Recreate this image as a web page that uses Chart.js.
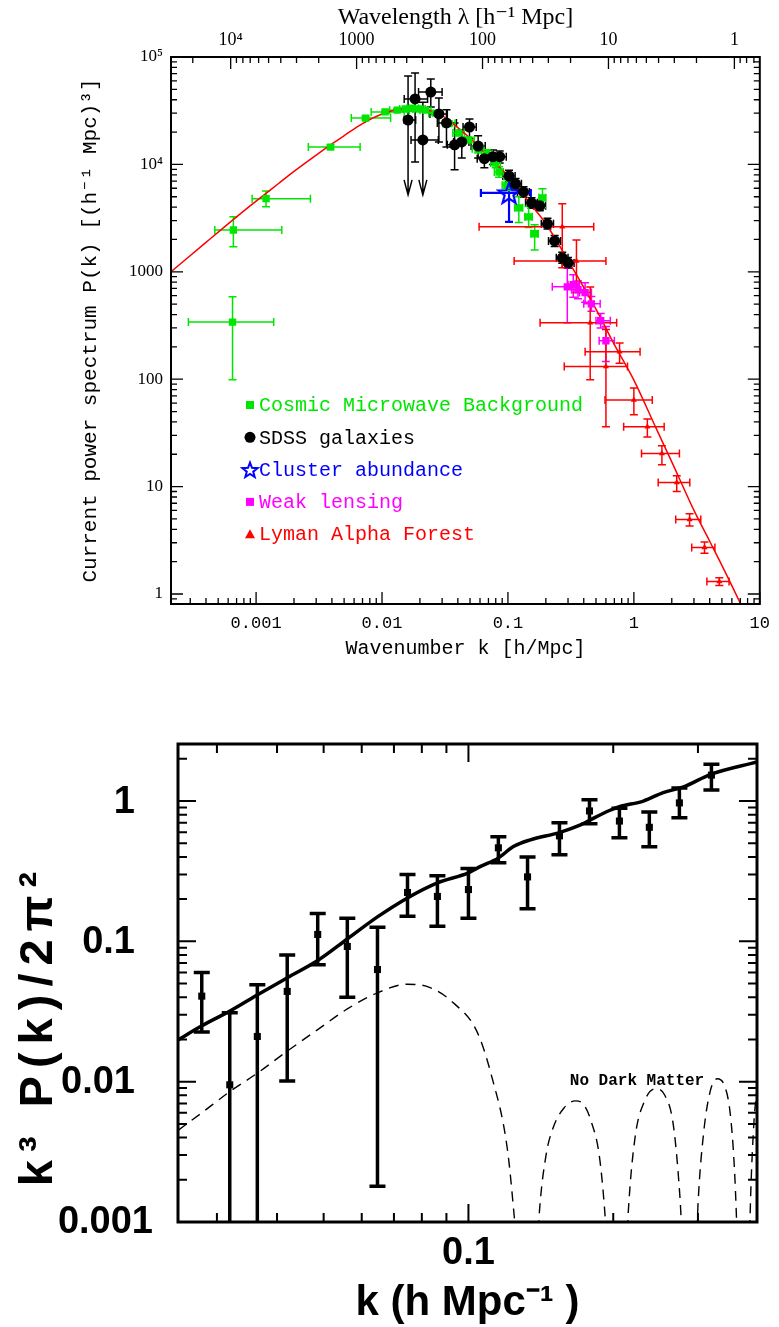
<!DOCTYPE html>
<html>
<head>
<meta charset="utf-8">
<title>Matter power spectrum</title>
<script src="https://cdn.jsdelivr.net/npm/chart.js@4.4.1/dist/chart.umd.min.js"></script>
<style>
  body { margin: 0; background: #fff; }
  canvas { position: absolute; left: 0; }
  #topChart { top: 0; }
  #botChart { top: 680px; }
</style>
</head>
<body>
<canvas id="topChart" width="779" height="680"></canvas>
<canvas id="botChart" width="779" height="647"></canvas>
<script>
// ---------- top panel: P(k), k in h/Mpc ----------
const theoryK = [0.000211, 0.0004, 0.0007, 0.001, 0.0015, 0.002, 0.003, 0.004, 0.005, 0.007, 0.01, 0.015, 0.02,
                 0.03, 0.04, 0.05, 0.07, 0.1, 0.15, 0.2, 0.3, 0.5, 0.7, 1, 1.5, 2, 3, 4, 5, 7, 8];
const theoryP = [1000, 1880, 3250, 4550, 6600, 8600, 12200, 15500, 18500, 24000, 29500, 33000, 33000,
                 28500, 22000, 17500, 11800, 7800, 4300, 2800, 1280, 450, 210, 98, 35, 17, 6.0, 3.1, 1.85, 0.82, 0.58];

// rows: k, P, kLow, kHigh, PLow, PHigh
const cmb = [
  [0.00065, 340, 0.00029, 0.00138, 99, 585],
  [0.00066, 2450, 0.00047, 0.0016, 1710, 3250],
  [0.0012, 4800, 0.00093, 0.0027, 4030, 5660],
  [0.0039, 14500, 0.0026, 0.0067, 13900, 15200],
  [0.0074, 27000, 0.0057, 0.0117, 26000, 28000],
  [0.0106, 30800, 0.0082, 0.0150, 29800, 31800],
  [0.0132, 32000, 0.0115, 0.0165, 31000, 33000],
  [0.0153, 32800, 0.0138, 0.0175, 31800, 33800],
  [0.0174, 33300, 0.0158, 0.0195, 32300, 34300],
  [0.0198, 32800, 0.0180, 0.0220, 31800, 33800],
  [0.0221, 32000, 0.0200, 0.0245, 31000, 33000],
  [0.0265, 30000, 0.0235, 0.0300, 29000, 31000],
  [0.0340, 24000, 0.0305, 0.0380, 23000, 25000],
  [0.0405, 19600, 0.0365, 0.0450, 18600, 20600],
  [0.0487, 16900, 0.0440, 0.0540, 15900, 17900],
  [0.058, 14000, 0.052, 0.064, 12800, 15200],
  [0.068, 12500, 0.062, 0.075, 11300, 13700],
  [0.080, 10300, 0.073, 0.087, 9300, 11300],
  [0.085, 8500, 0.078, 0.092, 7600, 9500],
  [0.098, 6400, 0.090, 0.106, 5700, 7200],
  [0.122, 3940, 0.113, 0.131, 2880, 5000],
  [0.146, 3250, 0.136, 0.156, 2580, 4060],
  [0.163, 2260, 0.152, 0.174, 1600, 2740],
  [0.188, 4880, 0.176, 0.200, 3940, 5920]
];
// rows: k, P, kLow, kHigh, PLow, PHigh, upper-limit arrow
const sdss = [
  [0.0161, 25900, 0.0150, 0.0185, 5200, 66600, 1],
  [0.0183, 40700, 0.0150, 0.0230, 10500, 71000, 0],
  [0.0211, 16900, 0.0170, 0.0280, 5200, 38000, 1],
  [0.0244, 47200, 0.0195, 0.0300, 34300, 62400, 0],
  [0.0283, 29500, 0.0240, 0.0330, 16200, 41500, 0],
  [0.0325, 24300, 0.0275, 0.0390, 14500, 32200, 0],
  [0.0377, 15200, 0.0330, 0.0430, 8900, 24300, 0],
  [0.0430, 16200, 0.0370, 0.0490, 11500, 21000, 0],
  [0.0495, 22300, 0.0440, 0.0560, 17500, 26500, 0],
  [0.058, 14800, 0.051, 0.066, 11500, 18500, 0],
  [0.065, 11300, 0.057, 0.074, 9300, 13500, 0],
  [0.076, 11800, 0.067, 0.086, 10000, 13600, 0],
  [0.086, 11800, 0.076, 0.097, 10300, 13300, 0],
  [0.102, 7800, 0.091, 0.114, 6900, 8800, 0],
  [0.115, 6600, 0.103, 0.128, 5900, 7400, 0],
  [0.133, 5540, 0.119, 0.148, 4950, 6200, 0],
  [0.154, 4390, 0.138, 0.171, 3900, 4900, 0],
  [0.179, 4110, 0.160, 0.199, 3700, 4550, 0],
  [0.206, 2800, 0.184, 0.230, 2500, 3150, 0],
  [0.235, 1940, 0.210, 0.262, 1720, 2180, 0],
  [0.270, 1350, 0.242, 0.300, 1200, 1520, 0],
  [0.300, 1210, 0.270, 0.335, 1080, 1360, 0]
];
const cluster = [[0.102, 5430, 0.061, 0.152, 2920, 6700]];
const lensing = [
  [0.296, 724, 0.225, 0.360, 336, 1090],
  [0.330, 757, 0.300, 0.370, 580, 940],
  [0.360, 680, 0.320, 0.400, 560, 820],
  [0.410, 640, 0.370, 0.460, 520, 790],
  [0.460, 503, 0.400, 0.540, 430, 590],
  [0.545, 350, 0.500, 0.650, 300, 410],
  [0.600, 228, 0.530, 0.700, 146, 310]
];
const lyman = [
  [0.27, 2620, 0.059, 0.48, 1090, 4300],
  [0.35, 1260, 0.112, 0.60, 640, 1980],
  [0.45, 336, 0.18, 0.73, 99, 720],
  [0.60, 131, 0.28, 0.89, 36, 290],
  [0.77, 180, 0.41, 1.12, 141, 217],
  [1.00, 64, 0.59, 1.40, 46.6, 83],
  [1.28, 36, 0.83, 1.74, 29, 42.5],
  [1.67, 20.3, 1.15, 2.30, 16, 24],
  [2.19, 10.9, 1.56, 2.78, 9, 12.6],
  [2.77, 4.93, 2.15, 3.40, 4.3, 5.6],
  [3.64, 2.71, 2.88, 4.40, 2.4, 3.05],
  [4.77, 1.31, 3.80, 5.70, 1.2, 1.42]
];
const legendLabels = ['Cosmic Microwave Background', 'SDSS galaxies', 'Cluster abundance', 'Weak lensing', 'Lyman Alpha Forest'];

const kTickVals = [0.001, 0.01, 0.1, 1, 10];
const kTickLabels = ['0.001', '0.01', '0.1', '1', '10'];
const lambdaTickVals = [10000, 1000, 100, 10, 1];
const lambdaTickLabels = ['10\u2074', '1000', '100', '10', '1'];
const pTickVals = [1, 10, 100, 1000, 10000, 100000];
const pTickLabels = ['1', '10', '100', '1000', '10\u2074', '10\u2075'];

// ---------- bottom panel: k^3 P(k) / 2pi^2 ----------
const binK  = [0.0279, 0.0319, 0.0364, 0.0420, 0.0486, 0.0560, 0.0647, 0.0747, 0.0862, 0.100,
               0.1154, 0.1327, 0.1546, 0.1785, 0.206, 0.2377, 0.2745, 0.320];
const binD  = [0.0407, 0.0095, 0.021, 0.044, 0.112, 0.092, 0.063, 0.223, 0.209, 0.234,
               0.464, 0.288, 0.565, 0.85, 0.72, 0.65, 0.97, 1.53];
const binLo = [0.0226, 0.0005, 0.0005, 0.0101, 0.068, 0.040, 0.0018, 0.151, 0.128, 0.146,
               0.363, 0.171, 0.414, 0.69, 0.547, 0.472, 0.76, 1.20];
const binHi = [0.060, 0.031, 0.049, 0.080, 0.158, 0.146, 0.126, 0.30, 0.294, 0.33,
               0.556, 0.40, 0.70, 1.02, 0.89, 0.836, 1.24, 1.83];

const cdmK = [0.0249, 0.0279, 0.032, 0.0366, 0.042, 0.0486, 0.056, 0.0648, 0.0747, 0.0862, 0.1, 0.106,
              0.1153, 0.124, 0.1345, 0.1545, 0.171, 0.179, 0.197, 0.206, 0.231, 0.254, 0.28, 0.319, 0.398];
const cdmD = [0.0198, 0.025, 0.032, 0.042, 0.055, 0.073, 0.104, 0.150, 0.204, 0.261, 0.308, 0.342,
              0.392, 0.474, 0.529, 0.596, 0.676, 0.733, 0.860, 0.911, 1.0, 1.15, 1.26, 1.55, 1.9];

// baryon-only model, one list per arch
const noDmK = [
  [0.0249, 0.0279, 0.0319, 0.0364, 0.042, 0.0486, 0.056, 0.0647, 0.0747, 0.083, 0.093, 0.104, 0.1117, 0.1205, 0.1245, 0.127],
  [0.1385, 0.1405, 0.145, 0.150, 0.158, 0.167, 0.174, 0.180, 0.187, 0.192, 0.195],
  [0.2125, 0.215, 0.222, 0.232, 0.245, 0.256, 0.266, 0.273, 0.277, 0.279],
  [0.297, 0.300, 0.308, 0.318, 0.329, 0.340, 0.350, 0.357, 0.361, 0.363],
  [0.383, 0.386, 0.392, 0.398]
];
const noDmD = [
  [0.0045, 0.0060, 0.0085, 0.0115, 0.0165, 0.0235, 0.033, 0.043, 0.0495, 0.047, 0.0365, 0.023, 0.011, 0.0033, 0.0011, 0.0005],
  [0.0005, 0.0012, 0.0030, 0.0047, 0.0065, 0.0073, 0.0068, 0.0052, 0.0030, 0.0012, 0.0005],
  [0.0005, 0.0012, 0.0040, 0.0072, 0.0089, 0.0080, 0.0052, 0.0022, 0.0010, 0.0005],
  [0.0005, 0.0013, 0.0042, 0.0085, 0.0105, 0.0095, 0.0060, 0.0025, 0.0010, 0.0005],
  [0.0005, 0.0015, 0.0050, 0.0090]
];
const dTickVals = [0.001, 0.01, 0.1, 1];
const dTickLabels = ['0.001', '0.01', '0.1', '1'];
const bkTickVals = [0.1];
const bkTickLabels = ['0.1'];

const GREEN = '#00e600', RED = '#ff0000', BLUE = '#0000ff', MAGENTA = '#ff00ff';
const MONO = '"Liberation Mono", "DejaVu Sans Mono", monospace';
const SERIF = '"Liberation Serif", "DejaVu Serif", serif';
const SANS = '"Liberation Sans", Arial, sans-serif';

function toPts(rows) {
  return rows.map(r => ({ x: r[0], y: r[1], xl: r[2], xh: r[3], yl: r[4], yh: r[5], arrow: !!r[6] }));
}

function starPath(ctx, cx, cy, R, r) {
  ctx.beginPath();
  for (let i = 0; i < 10; i++) {
    const a = -Math.PI / 2 + i * Math.PI / 5, rr = i % 2 ? r : R;
    ctx.lineTo(cx + rr * Math.cos(a), cy + rr * Math.sin(a));
  }
  ctx.closePath();
}
const starImg = document.createElement('canvas');
starImg.width = 26; starImg.height = 26;
(function () {
  const c = starImg.getContext('2d');
  c.strokeStyle = BLUE; c.lineWidth = 2.2;
  starPath(c, 13, 14, 11, 4.6); c.stroke();
})();

function decadeTicks(min, max) {
  const out = [];
  for (let e = Math.floor(Math.log10(min)) - 1; e <= Math.ceil(Math.log10(max)); e++)
    for (let m = 1; m < 10; m++) {
      const v = m * Math.pow(10, e);
      if (v >= min * 0.9999 && v <= max * 1.0001) out.push([v, m === 1]);
    }
  return out;
}

// error bars with caps, drawn through the chart scales
const errorBars = {
  id: 'errorBars',
  beforeDatasetsDraw(chart) {
    const { ctx, chartArea: a, scales: { x: xs, y: ys } } = chart;
    ctx.save();
    ctx.beginPath(); ctx.rect(a.left, a.top, a.width, a.height); ctx.clip();
    chart.data.datasets.forEach(ds => {
      if (!ds.bar) return;
      const cap = ds.bar.cap;
      ctx.strokeStyle = ds.bar.color; ctx.lineWidth = ds.bar.width;
      ds.data.forEach(p => {
        const x = xs.getPixelForValue(p.x), y = ys.getPixelForValue(p.y);
        ctx.beginPath();
        if (p.xl !== undefined) {
          const x0 = xs.getPixelForValue(p.xl), x1 = xs.getPixelForValue(p.xh);
          ctx.moveTo(x0, y); ctx.lineTo(x1, y);
          ctx.moveTo(x0, y - cap); ctx.lineTo(x0, y + cap);
          ctx.moveTo(x1, y - cap); ctx.lineTo(x1, y + cap);
        }
        const y0 = ys.getPixelForValue(p.yl), y1 = ys.getPixelForValue(p.yh);
        ctx.moveTo(x, y0); ctx.lineTo(x, y1);
        ctx.moveTo(x - cap, y1); ctx.lineTo(x + cap, y1);
        if (p.arrow) {
          ctx.moveTo(x - 4, y0 - 15); ctx.lineTo(x, y0); ctx.lineTo(x + 4, y0 - 15);
        } else {
          ctx.moveTo(x - cap, y0); ctx.lineTo(x + cap, y0);
        }
        ctx.stroke();
      });
    });
    ctx.restore();
  }
};

function tickFrame(opts) {
  return {
    id: 'tickFrame',
    afterDraw(chart) {
      const { ctx, chartArea: a, scales: { x, y } } = chart;
      ctx.save();
      ctx.strokeStyle = '#000'; ctx.lineWidth = opts.tickWidth;
      ctx.beginPath();
      decadeTicks(x.min, x.max).forEach(([v, maj]) => {
        const px = x.getPixelForValue(v), L = maj ? opts.major : opts.minor;
        ctx.moveTo(px, a.bottom); ctx.lineTo(px, a.bottom - L);
        if (!opts.topTicks) { ctx.moveTo(px, a.top); ctx.lineTo(px, a.top + L); }
      });
      if (opts.topTicks) opts.topTicks().forEach(([v, maj]) => {
        const px = x.getPixelForValue(v), L = maj ? opts.major : opts.minor;
        ctx.moveTo(px, a.top); ctx.lineTo(px, a.top + L);
      });
      decadeTicks(y.min, y.max).forEach(([v, maj]) => {
        const py = y.getPixelForValue(v), L = maj ? opts.major : opts.minor;
        ctx.moveTo(a.left, py); ctx.lineTo(a.left + L, py);
        ctx.moveTo(a.right, py); ctx.lineTo(a.right - L, py);
      });
      ctx.stroke();
      ctx.lineWidth = opts.frameWidth;
      ctx.strokeRect(a.left, a.top, a.width, a.height);
      ctx.restore();
    }
  };
}

function texts(items) {
  return {
    id: 'texts',
    afterDraw(chart) {
      const { ctx, chartArea: a } = chart;
      items.forEach(t => {
        const [x, y] = t.at(a);
        ctx.save();
        ctx.font = t.font; ctx.fillStyle = t.color || '#000';
        ctx.textAlign = t.align || 'center'; ctx.textBaseline = 'middle';
        if (t.spacing) ctx.letterSpacing = t.spacing;
        ctx.translate(x, y);
        if (t.rot) ctx.rotate(t.rot);
        ctx.fillText(t.text, 0, 0);
        ctx.restore();
      });
    }
  };
}

const legendBox = {
  id: 'legendBox',
  afterDraw(chart) {
    const { ctx, chartArea: a } = chart;
    const colors = [GREEN, '#000', BLUE, MAGENTA, RED];
    ctx.save();
    ctx.font = '20px ' + MONO; ctx.textBaseline = 'middle';
    legendLabels.forEach((lab, i) => {
      const mx = a.left + 79, my = a.top + 348 + i * 32.3;
      ctx.fillStyle = colors[i]; ctx.strokeStyle = colors[i];
      if (i === 0 || i === 3) ctx.fillRect(mx - 4, my - 4, 8, 8);
      else if (i === 1) { ctx.beginPath(); ctx.arc(mx, my, 5.5, 0, 2 * Math.PI); ctx.fill(); }
      else if (i === 2) { ctx.lineWidth = 2; starPath(ctx, mx, my + 1, 8, 3.4); ctx.stroke(); }
      else { ctx.beginPath(); ctx.moveTo(mx, my - 5); ctx.lineTo(mx + 5, my + 4); ctx.lineTo(mx - 5, my + 4); ctx.closePath(); ctx.fill(); }
      ctx.fillText(lab, mx + 9, my + 1);
    });
    ctx.restore();
  }
};

// bottom panel y labels: right-aligned, the corner label sits further right
const dLabels = {
  id: 'dLabels',
  afterDraw(chart) {
    const { ctx, chartArea: a, scales: { y } } = chart;
    ctx.save();
    ctx.font = 'bold 38px ' + SANS; ctx.fillStyle = '#000';
    ctx.textAlign = 'right'; ctx.textBaseline = 'middle';
    dTickVals.forEach((v, i) => {
      const right = a.left - (i === 0 ? 25 : 43);
      ctx.fillText(dTickLabels[i], right, y.getPixelForValue(v) + 1);
    });
    ctx.restore();
  }
};

function logAxis(min, max, vals, labels, font, pad, fit, pos, show) {
  return {
    type: 'logarithmic', position: pos, min: min, max: max,
    grid: { display: false, drawTicks: false }, border: { display: false },
    afterBuildTicks: s => { s.ticks = vals.map(v => ({ value: v })); },
    afterFit: fit,
    ticks: { display: show !== false, autoSkip: false, maxRotation: 0, color: '#000', font: font, padding: pad,
             callback: (v, i) => labels[i] }
  };
}

const K_MIN = 0.000211, K_MAX = 10;

new Chart(document.getElementById('topChart'), {
  type: 'scatter',
  data: {
    datasets: [
      { label: 'SDSS galaxies', data: toPts(sdss), pointStyle: 'circle', pointRadius: 5.5,
        backgroundColor: '#000', borderColor: '#000', borderWidth: 0, bar: { color: '#000', width: 1.5, cap: 4 } },
      { label: 'Cluster abundance', data: toPts(cluster), pointStyle: starImg, pointRadius: 10,
        backgroundColor: BLUE, borderColor: BLUE, bar: { color: BLUE, width: 2.2, cap: 4 } },
      { label: 'Weak lensing', data: toPts(lensing), pointStyle: 'rect', pointRadius: 5.2,
        backgroundColor: MAGENTA, borderColor: MAGENTA, borderWidth: 0, bar: { color: MAGENTA, width: 1.5, cap: 4 } },
      { label: 'Cosmic Microwave Background', data: toPts(cmb), pointStyle: 'rect', pointRadius: 5.2,
        backgroundColor: GREEN, borderColor: GREEN, borderWidth: 0, bar: { color: GREEN, width: 1.5, cap: 4 } },
      { label: 'Lyman Alpha Forest', data: toPts(lyman), pointStyle: 'triangle', pointRadius: 3.5,
        backgroundColor: RED, borderColor: RED, borderWidth: 0, bar: { color: RED, width: 1.5, cap: 4 } },
      { label: 'Theory', data: theoryK.map((k, i) => ({ x: k, y: theoryP[i] })), showLine: true,
        borderColor: RED, borderWidth: 1.5, pointRadius: 0, cubicInterpolationMode: 'monotone' }
    ]
  },
  options: {
    responsive: false, animation: false, events: [],
    layout: { padding: { left: 0, right: 12, top: 0, bottom: 0 } },
    plugins: { legend: { display: false }, tooltip: { enabled: false } },
    scales: {
      x: logAxis(K_MIN, K_MAX, kTickVals, kTickLabels, { family: MONO, size: 17 }, 9, s => { s.height = 76; }, 'bottom'),
      x2: logAxis(K_MIN, K_MAX, lambdaTickVals.map(l => 2 * Math.PI / l), lambdaTickLabels,
                  { family: SERIF, size: 18 }, 6, s => { s.height = 57; }, 'top'),
      y: logAxis(0.807, 100000, pTickVals, pTickLabels, { family: SERIF, size: 17 }, 8, s => { s.width = 171; }, 'left')
    }
  },
  plugins: [
    errorBars, legendBox,
    tickFrame({ major: 12, minor: 6, tickWidth: 1.3, frameWidth: 2,
      topTicks: () => decadeTicks(2 * Math.PI / K_MAX, 2 * Math.PI / K_MIN).map(([l, m]) => [2 * Math.PI / l, m]) }),
    texts([
      { text: 'Wavelength \u03bb [h\u207b\u00b9 Mpc]', font: '24px ' + SERIF, at: a => [(a.left + a.right) / 2 - 10, 18] },
      { text: 'Wavenumber k [h/Mpc]', font: '20px ' + MONO, at: a => [(a.left + a.right) / 2, a.bottom + 45] },
      { text: 'Current power spectrum P(k) [(h\u207b\u00b9 Mpc)\u00b3]', font: '21px ' + MONO, rot: -Math.PI / 2,
        at: a => [a.left - 81, (a.top + a.bottom) / 2] }
    ])
  ]
});

const BK_MIN = 0.0249, BK_MAX = 0.398;
const dashed = noDmK.map((ks, j) => ({
  label: 'No Dark Matter ' + j, data: ks.map((k, i) => ({ x: k, y: noDmD[j][i] })), showLine: true,
  borderColor: '#000', borderWidth: 1.4, borderDash: [10, 7], pointRadius: 0, cubicInterpolationMode: 'monotone'
}));

new Chart(document.getElementById('botChart'), {
  type: 'scatter',
  data: {
    datasets: [
      { label: 'Data', data: binK.map((k, i) => ({ x: k, y: binD[i], yl: binLo[i], yh: binHi[i] })),
        pointStyle: 'rect', pointRadius: 5, backgroundColor: '#000', borderColor: '#000', borderWidth: 0,
        bar: { color: '#000', width: 3.5, cap: 8 } },
      { label: 'CDM', data: cdmK.map((k, i) => ({ x: k, y: cdmD[i] })), showLine: true,
        borderColor: '#000', borderWidth: 3.5, pointRadius: 0, cubicInterpolationMode: 'monotone' }
    ].concat(dashed)
  },
  options: {
    responsive: false, animation: false, events: [],
    layout: { padding: { left: 0, right: 22, top: 64, bottom: 0 } },
    plugins: { legend: { display: false }, tooltip: { enabled: false } },
    scales: {
      x: logAxis(BK_MIN, BK_MAX, bkTickVals, bkTickLabels, { family: SANS, size: 38, weight: 'bold' }, 9, s => { s.height = 105; }, 'bottom'),
      y: logAxis(0.001, 2.55, dTickVals, dTickLabels, { family: SANS, size: 38, weight: 'bold' }, 25, s => { s.width = 178; }, 'left', false)
    }
  },
  plugins: [
    errorBars, dLabels,
    tickFrame({ major: 18, minor: 9, tickWidth: 2, frameWidth: 3 }),
    texts([
      { text: 'No Dark Matter', font: 'bold 16px ' + MONO, at: a => [a.left + 459, a.top + 337] },
      { text: 'k (h Mpc\u207b\u00b9 )', font: 'bold 42px ' + SANS, at: a => [(a.left + a.right) / 2, a.bottom + 81] },
      { text: 'k\u00b3 P(k)/2\u03c0\u00b2', font: 'bold 47px ' + SANS, spacing: '8px', rot: -Math.PI / 2,
        at: a => [a.left - 139, a.top + 281] }
    ])
  ]
});
</script>
</body>
</html>
